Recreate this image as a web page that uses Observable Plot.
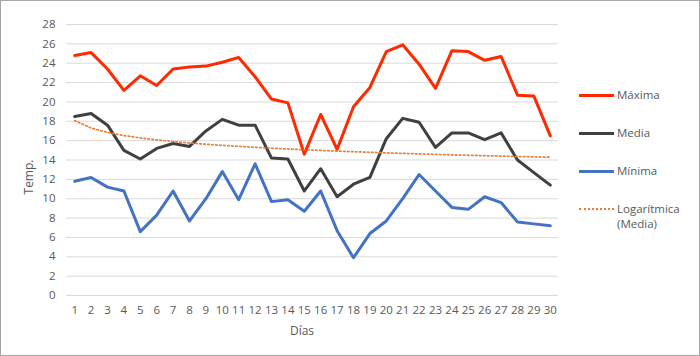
<!DOCTYPE html>
<html>
<head>
<meta charset="utf-8">
<script src="https://cdn.jsdelivr.net/npm/d3@7"></script>
<script src="https://cdn.jsdelivr.net/npm/@observablehq/plot@0.6"></script>
<style>
  html, body { margin: 0; padding: 0; background: #fff; }
  #wrap { position: relative; width: 700px; height: 356px; overflow: hidden; }
  #wrap svg { position: absolute; left: 0; top: 0; }
  #border { position: absolute; left: 0; top: 0; width: 698px; height: 354px; border: 1px solid #a6a6a6; pointer-events: none; }
  .leg { position: absolute; font-family: "Open Sans", sans-serif; font-size: 11.5px; color: #595959; line-height: 15px; }
  .sw { position: absolute; width: 35px; height: 0; }
  .axl { position: absolute; font-family: "Open Sans", sans-serif; font-size: 12px; color: #595959; line-height: 14px; white-space: nowrap; }
</style>
</head>
<body>
<div id="wrap"></div>
<script>
const days = Array.from({length: 30}, (_, i) => i + 1);
const maxima = [24.8, 25.1, 23.4, 21.2, 22.7, 21.7, 23.4, 23.6, 23.7, 24.1, 24.6, 22.6, 20.3, 19.9, 14.6, 18.7, 15.1, 19.5, 21.5, 25.2, 25.9, 23.9, 21.4, 25.3, 25.2, 24.3, 24.7, 20.7, 20.6, 16.5];
const media  = [18.5, 18.8, 17.6, 15.0, 14.1, 15.2, 15.7, 15.4, 17.0, 18.2, 17.6, 17.6, 14.2, 14.1, 10.8, 13.1, 10.2, 11.5, 12.2, 16.2, 18.3, 17.9, 15.3, 16.8, 16.8, 16.1, 16.8, 14.0, 12.7, 11.4];
const minima = [11.8, 12.2, 11.2, 10.8, 6.6, 8.3, 10.8, 7.7, 10.0, 12.8, 9.9, 13.6, 9.7, 9.9, 8.7, 10.8, 6.7, 3.9, 6.4, 7.7, 10.0, 12.5, 10.8, 9.1, 8.9, 10.2, 9.6, 7.6, 7.4, 7.2];
const seriesNames = ["Máxima", "Media", "Mínima"];
const seriesColors = ["#ff2a00", "#404040", "#4472c4"];
const trendName = "Logarítmica\n(Media)";
const trendColor = "#ed7d31";
const yTicks = d3.range(0, 29, 2);
const xLabel = "Días";
const yLabel = "Temp.";

// logarithmic trendline of Media (least squares on ln(day))
const lx = days.map(d => Math.log(d));
const mx = d3.mean(lx), my = d3.mean(media);
const b = d3.sum(lx, (v, i) => (v - mx) * (media[i] - my)) / d3.sum(lx, v => (v - mx) ** 2);
const a = my - b * mx;
const trend = days.map(d => ({day: d, v: a + b * Math.log(d)}));

const rows = [];
[maxima, media, minima].forEach((arr, s) => arr.forEach((v, i) => rows.push({series: seriesNames[s], day: days[i], v})));

const chart = Plot.plot({
  width: 700,
  height: 356,
  marginLeft: 66,
  marginRight: 142,
  marginTop: 24,
  marginBottom: 61,
  style: {fontFamily: "'Open Sans', sans-serif", fontSize: "11.5px", color: "#595959", background: "transparent"},
  x: {type: "linear", domain: [0.5, 30.5], label: null},
  y: {domain: [0, 28], label: null},
  color: {domain: seriesNames, range: seriesColors},
  marks: [
    Plot.gridY(yTicks, {stroke: "#d9d9d9", strokeOpacity: 1, strokeWidth: 1}),
    Plot.axisY(yTicks, {tickSize: 0, tickPadding: 11, fill: "#595959", label: null}),
    Plot.axisX(days, {tickSize: 0, tickPadding: 10, fill: "#595959", label: null, tickFormat: d => String(d)}),
    Plot.line(rows, {x: "day", y: "v", z: "series", stroke: "series", strokeWidth: 3, strokeLinejoin: "round", strokeLinecap: "round"}),
    Plot.line(trend, {x: "day", y: "v", stroke: trendColor, strokeWidth: 1.75, strokeDasharray: "1.5,2.5"})
  ]
});

const wrap = document.getElementById("wrap");
wrap.appendChild(chart);

// axis titles
const xl = document.createElement("div");
xl.className = "axl";
xl.textContent = xLabel;
xl.style.left = "302px";
xl.style.top = "331px";
xl.style.transform = "translate(-50%, -50%)";
wrap.appendChild(xl);
const yl = document.createElement("div");
yl.className = "axl";
yl.textContent = yLabel;
yl.style.left = "29px";
yl.style.top = "177px";
yl.style.transform = "translate(-50%, -50%) rotate(-90deg)";
wrap.appendChild(yl);

// legend
const legendItems = [
  {name: seriesNames[0], color: seriesColors[0], dash: false, y: 95},
  {name: seriesNames[1], color: seriesColors[1], dash: false, y: 133},
  {name: seriesNames[2], color: seriesColors[2], dash: false, y: 171},
  {name: trendName, color: trendColor, dash: true, y: 209}
];
legendItems.forEach(it => {
  const sw = document.createElement("div");
  sw.className = "sw";
  sw.style.left = "579px";
  if (it.dash) {
    sw.style.top = (it.y - 1) + "px";
    sw.style.borderTop = "2px dotted " + it.color;
  } else {
    sw.style.top = (it.y - 1.5) + "px";
    sw.style.borderTop = "3px solid " + it.color;
  }
  wrap.appendChild(sw);
  const t = document.createElement("div");
  t.className = "leg";
  t.style.left = "617px";
  t.style.top = (it.y - 8) + "px";
  t.innerHTML = it.name.split("\n").join("<br>");
  wrap.appendChild(t);
});
const border = document.createElement("div");
border.id = "border";
wrap.appendChild(border);
</script>
</body>
</html>
